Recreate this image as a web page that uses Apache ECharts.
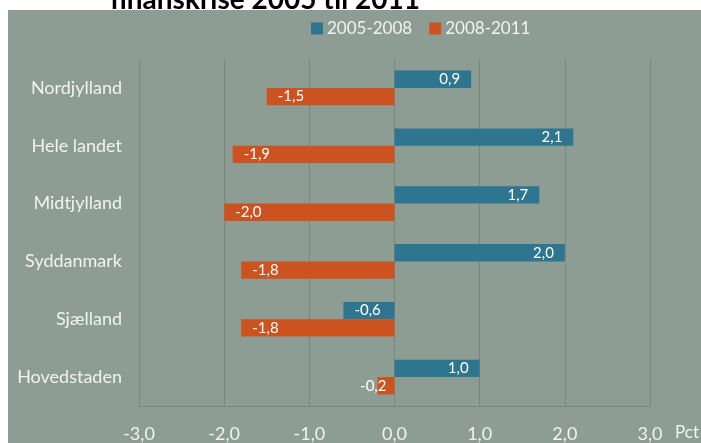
<!DOCTYPE html>
<html>
<head>
<meta charset="utf-8">
<script src="https://cdn.jsdelivr.net/npm/echarts@6/dist/echarts.min.js"></script>
<style>
  html, body { margin: 0; padding: 0; background: #fff; }
  #chart { width: 701px; height: 443px; }
</style>
</head>
<body>
<div id="chart"></div>
<script>
// regions, top to bottom
const regions = ['Nordjylland', 'Hele landet', 'Midtjylland', 'Syddanmark', 'Sjælland', 'Hovedstaden'];
const growth0508 = [0.9, 2.1, 1.7, 2.0, -0.6, 1.0];
const growth0811 = [-1.5, -1.9, -2.0, -1.8, -1.8, -0.2];
const seriesNames = ['2005-2008', '2008-2011'];
const titleText = 'finanskrise 2005 til 2011';

const fmt = v => v.toFixed(1).replace('.', ',');
const font = 'Lato, "Noto Sans", sans-serif';

// data label sits at the inner end of the bar; tiny bars get it pushed out a bit
function barData(values) {
  return values.map(v => {
    let pos = v >= 0 ? 'insideRight' : 'insideLeft';
    let dist = 11;
    if (Math.abs(v) < 0.4) { pos = v >= 0 ? 'right' : 'left'; dist = -9; }
    return { value: v, label: { position: pos, distance: dist } };
  });
}

const chart = echarts.init(document.getElementById('chart'));
chart.setOption({
  backgroundColor: '#ffffff',
  animation: false,
  graphic: {
    elements: [
      // title is cut off by the plot panel in the original
      { type: 'text', left: 110, top: -14, z: -200, silent: true,
        style: { text: titleText, fill: '#000', font: 'bold 28px ' + font } },
      { type: 'rect', z: -100, silent: true,
        shape: { x: 8, y: 10, width: 693, height: 433 },
        style: { fill: '#8E9D94' } },
      { type: 'text', left: 675, top: 424, silent: true,
        style: { text: 'Pct', fill: '#F2F2F2', font: '17px ' + font } }
    ]
  },
  legend: {
    left: 311, top: 20, padding: 0,
    itemWidth: 12, itemHeight: 12, itemGap: 17,
    icon: 'rect',
    textStyle: { color: '#F2F2F2', fontSize: 17, fontFamily: font, padding: [0, 0, 0, -1] },
    data: seriesNames
  },
  grid: { left: 139, right: 51, top: 59, bottom: 36 },
  xAxis: {
    type: 'value', min: -3, max: 3, interval: 1,
    axisLine: { show: true, lineStyle: { color: '#7C8680', width: 1 } },
    axisTick: { show: false },
    splitLine: { show: true, lineStyle: { color: '#7C8680', width: 1 } },
    axisLabel: { color: '#F2F2F2', fontSize: 18, fontFamily: font, margin: 19, formatter: fmt }
  },
  yAxis: {
    type: 'category', inverse: true, data: regions,
    axisLine: { show: false },
    axisTick: { show: false },
    axisLabel: { color: '#F2F2F2', fontSize: 18, fontFamily: font, margin: 17 }
  },
  series: [
    { name: seriesNames[0], type: 'bar', data: barData(growth0508),
      itemStyle: { color: '#2E7590' }, barGap: '0%', barCategoryGap: '40%',
      label: { show: true, color: '#fff', fontSize: 15, fontFamily: font, formatter: p => fmt(p.value) } },
    { name: seriesNames[1], type: 'bar', data: barData(growth0811),
      itemStyle: { color: '#CC5220' }, barGap: '0%', barCategoryGap: '40%',
      label: { show: true, color: '#fff', fontSize: 15, fontFamily: font, formatter: p => fmt(p.value) } }
  ]
});
</script>
</body>
</html>
